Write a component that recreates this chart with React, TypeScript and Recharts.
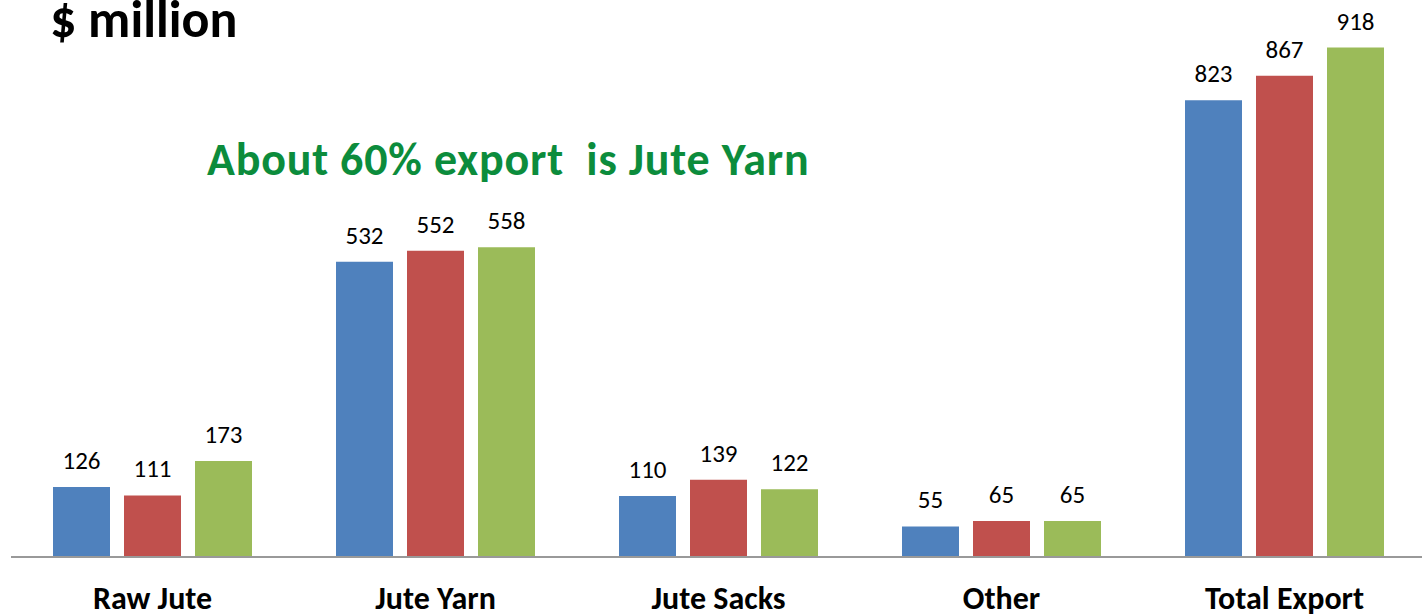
import React from "react";
import { BarChart, Bar, XAxis, YAxis, LabelList } from "recharts";

const categories = ["Raw Jute", "Jute Yarn", "Jute Sacks", "Other", "Total Export"];
const seriesA = [126, 532, 110, 55, 823];
const seriesB = [111, 552, 139, 65, 867];
const seriesC = [173, 558, 122, 65, 918];

const data = categories.map((name, i) => ({
  name,
  a: seriesA[i],
  b: seriesB[i],
  c: seriesC[i],
}));

const FONT = "Carlito, Calibri, Lato, 'Open Sans', sans-serif";
const LABEL_STYLE = { fill: "#000", fontSize: 25, fontFamily: FONT };

export default function App() {
  return (
    <div
      style={{
        position: "absolute",
        left: 0,
        top: 0,
        width: 1422,
        height: 614,
        overflow: "hidden",
        background: "#fff",
        fontFamily: FONT,
      }}
    >
      <BarChart
        width={1426}
        height={614}
        data={data}
        margin={{ top: 2, right: 0, left: 11, bottom: 0 }}
        barSize={57}
        barGap={14}
      >
        <XAxis
          dataKey="name"
          height={57}
          axisLine={{ stroke: "#999", strokeWidth: 2 }}
          tickLine={false}
          tickMargin={23}
          interval={0}
          tick={{ fill: "#000", fontSize: 32, fontWeight: 700, fontFamily: FONT }}
        />
        <YAxis hide domain={[0, 1000]} />
        <Bar dataKey="a" fill="#4F81BD" isAnimationActive={false}>
          <LabelList dataKey="a" position="top" offset={18} style={LABEL_STYLE} />
        </Bar>
        <Bar dataKey="b" fill="#C0504D" isAnimationActive={false}>
          <LabelList dataKey="b" position="top" offset={18} style={LABEL_STYLE} />
        </Bar>
        <Bar dataKey="c" fill="#9BBB59" isAnimationActive={false}>
          <LabelList dataKey="c" position="top" offset={18} style={LABEL_STYLE} />
        </Bar>
      </BarChart>
      <div
        style={{
          position: "absolute",
          left: 50,
          top: -13,
          fontSize: 52,
          fontWeight: 700,
          color: "#000",
          whiteSpace: "nowrap",
        }}
      >
        $ million
      </div>
      <div
        style={{
          position: "absolute",
          left: 207,
          top: 131,
          fontSize: 46,
          fontWeight: 700,
          letterSpacing: 0.8,
          color: "#0C8C3C",
          whiteSpace: "pre",
        }}
      >
        {"About 60% export  is Jute Yarn"}
      </div>
    </div>
  );
}
